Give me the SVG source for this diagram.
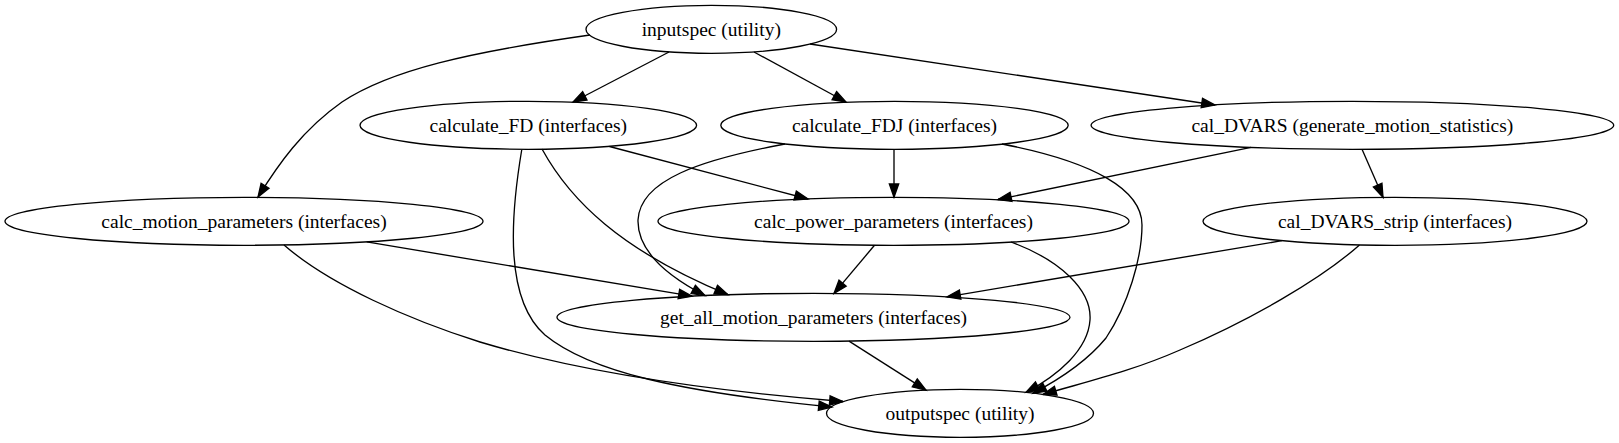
<svg xmlns="http://www.w3.org/2000/svg" width="1619" height="443" viewBox="0 0 1619 443">
<style>
.node ellipse{fill:none;stroke:#000;stroke-width:1.33}
.node text{font-family:"Liberation Serif","Times New Roman",serif;font-size:19.5px;text-anchor:middle;fill:#000}
#edges path{fill:none;stroke:#000;stroke-width:1.33}
</style>
<defs>
<marker id="arr" markerUnits="userSpaceOnUse" markerWidth="15" markerHeight="11" refX="13.3" refY="4.67" orient="auto" overflow="visible">
<path d="M0,0 L13.3,4.67 L0,9.33 z" fill="#000" stroke="#000" stroke-width="1.33"/>
</marker>
</defs>
<rect width="1619" height="443" fill="#fff"/>
<g id="edges">
<path marker-end="url(#arr)" d="M590,35 C470,52 390,70 342,102 C302,130 278,165 258,197"/>
<path marker-end="url(#arr)" d="M669,52 L573,102"/>
<path marker-end="url(#arr)" d="M754,52 L846,102"/>
<path marker-end="url(#arr)" d="M810,44 L1215,105"/>
<path marker-end="url(#arr)" d="M609.5,146.5 L808,199"/>
<path marker-end="url(#arr)" d="M542,149 C570,200 620,250 728,294.7"/>
<path marker-end="url(#arr)" d="M521.7,150 C510,220 505,300 545,335 C590,372 680,392 832,407"/>
<path marker-end="url(#arr)" d="M894,149.3 L894,197.3"/>
<path marker-end="url(#arr)" d="M785,144 C700,160 640,180 638,220 C637,255 675,280 705,295.6"/>
<path marker-end="url(#arr)" d="M1002,144 C1095,162 1142,190 1142,225 C1142,258 1128,305 1106,338 C1088,360 1062,378 1033,393.2"/>
<path marker-end="url(#arr)" d="M1251,147.4 L998,199.5"/>
<path marker-end="url(#arr)" d="M1362,149.3 L1383,197.3"/>
<path marker-end="url(#arr)" d="M366.7,241.9 L692,296.2"/>
<path marker-end="url(#arr)" d="M284,245 C330,285 410,320 480,342 C580,372 700,390 843,401.5"/>
<path marker-end="url(#arr)" d="M874.5,245.3 L834,293.4"/>
<path marker-end="url(#arr)" d="M1011,242 C1060,260 1092,290 1090,320 C1088,350 1058,375 1026,392.4"/>
<path marker-end="url(#arr)" d="M1282,240.7 L947,296.8"/>
<path marker-end="url(#arr)" d="M1359.5,245 C1320,280 1250,320 1180,350 C1130,372 1085,382 1043,394.5"/>
<path marker-end="url(#arr)" d="M849,341.1 L926,390.1"/>
</g>
<g id="inputspec" class="node"><ellipse cx="711.3" cy="29.3" rx="125.3" ry="24"/><text x="711.3" y="35.8">inputspec (utility)</text></g>
<g id="calculate_FD" class="node"><ellipse cx="528.3" cy="125.3" rx="168.3" ry="24"/><text x="528.3" y="131.8">calculate_FD (interfaces)</text></g>
<g id="calculate_FDJ" class="node"><ellipse cx="894.5" cy="125.3" rx="173.7" ry="24"/><text x="894.5" y="131.8">calculate_FDJ (interfaces)</text></g>
<g id="cal_DVARS" class="node"><ellipse cx="1352.4" cy="125.3" rx="261.3" ry="24"/><text x="1352.4" y="131.8">cal_DVARS (generate_motion_statistics)</text></g>
<g id="calc_motion_parameters" class="node"><ellipse cx="244" cy="221.3" rx="239" ry="24"/><text x="244" y="227.8">calc_motion_parameters (interfaces)</text></g>
<g id="calc_power_parameters" class="node"><ellipse cx="893.5" cy="221.3" rx="235.5" ry="24"/><text x="893.5" y="227.8">calc_power_parameters (interfaces)</text></g>
<g id="cal_DVARS_strip" class="node"><ellipse cx="1395" cy="221.3" rx="192" ry="24"/><text x="1395" y="227.8">cal_DVARS_strip (interfaces)</text></g>
<g id="get_all_motion_parameters" class="node"><ellipse cx="813.5" cy="317.3" rx="256.5" ry="24"/><text x="813.5" y="323.8">get_all_motion_parameters (interfaces)</text></g>
<g id="outputspec" class="node"><ellipse cx="960" cy="413.3" rx="133.5" ry="24"/><text x="960" y="419.8">outputspec (utility)</text></g>
</svg>
